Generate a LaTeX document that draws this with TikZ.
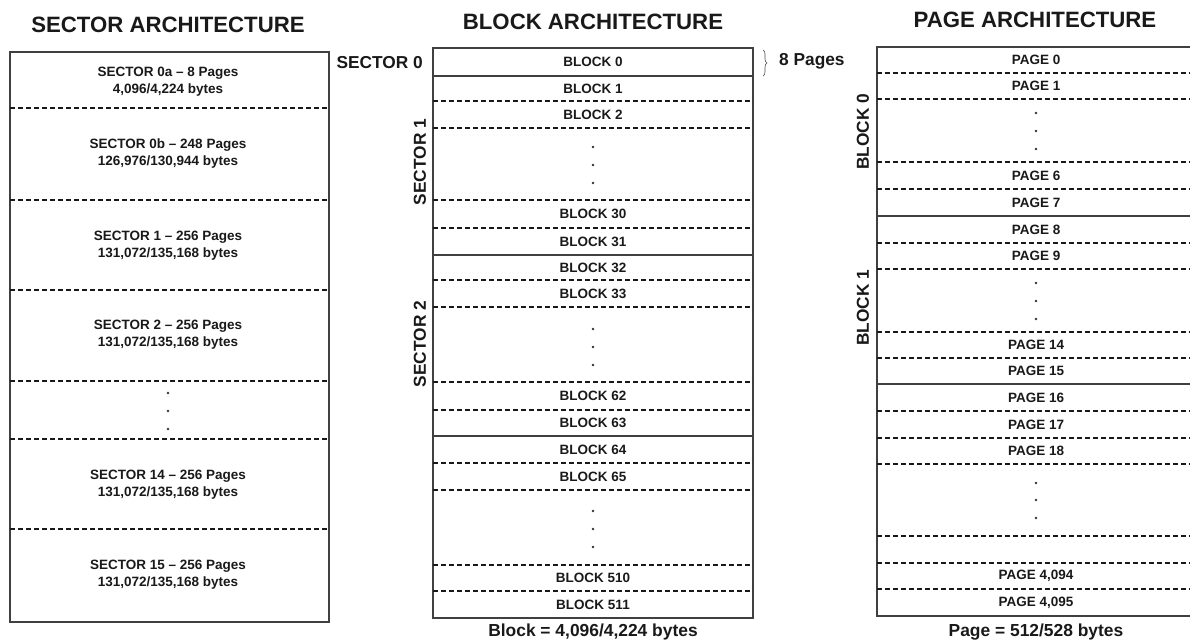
\documentclass[tikz,border=0pt]{standalone}
\usepackage{fontspec}
\setmainfont{Liberation Sans}
\usetikzlibrary{decorations.pathreplacing}
\begin{document}
\begin{tikzpicture}[x=1pt,y=-1pt,
  box/.style={line width=1.5pt, draw=black!75},
  sep/.style={line width=1.4pt, draw=black!75},
  dsh/.style={line width=1.2pt, draw=black!90, dash pattern=on 5pt off 3pt},
  lbl/.style={font=\fontsize{13.5}{17}\selectfont\bfseries, inner sep=0pt, align=center, text=black!90},
  ttl/.style={font=\fontsize{22.2}{24}\selectfont\bfseries, inner sep=0pt, text=black!90},
  side/.style={font=\fontsize{17.3}{19}\selectfont\bfseries, inner sep=0pt, text=black!90},
  capt/.style={font=\fontsize{17.4}{19}\selectfont\bfseries, inner sep=0pt, text=black!90},
  dotmark/.style={circle, fill=black!80, inner sep=0pt, minimum size=2.8pt}]
\useasboundingbox (0,0) rectangle (1190,642);

% titles
\node[ttl] (t1) at (168,25) {SECTOR ARCHITECTURE};
\node[ttl] (t2) at (593,22) {BLOCK ARCHITECTURE};
\node[ttl] (t3) at (1035,20) {PAGE ARCHITECTURE};

% ---------- sector architecture ----------
\draw[box] (10,52) rectangle (329,622);
\foreach \y in {108,200,290,381,439,529} \draw[dsh] (10,\y) -- (329,\y);
\node[lbl] (s0a) at (168,82) {SECTOR 0a -- 8 Pages\\4,096/4,224 bytes};
\node[lbl] (s0b) at (168,154) {SECTOR 0b -- 248 Pages\\126,976/130,944 bytes};
\node[lbl] (s1) at (168,245.5) {SECTOR 1 -- 256 Pages\\131,072/135,168 bytes};
\node[lbl] (s2) at (168,334.5) {SECTOR 2 -- 256 Pages\\131,072/135,168 bytes};
\node[lbl] (s14) at (168,484.5) {SECTOR 14 -- 256 Pages\\131,072/135,168 bytes};
\node[lbl] (s15) at (168,575) {SECTOR 15 -- 256 Pages\\131,072/135,168 bytes};
\foreach \y [count=\i] in {393,411,429} \node[dotmark] (sd\i) at (168,\y) {};

% ---------- block architecture ----------
\draw[box] (433,48) rectangle (753,618);
\foreach \y in {76,255,436} \draw[sep] (433,\y) -- (753,\y);
\foreach \y in {101,128,200,228,280,307,382,410,463,490,565,591} \draw[dsh] (433,\y) -- (753,\y);
\foreach \y/\t [count=\i] in {62/BLOCK 0, 88.5/BLOCK 1, 114.5/BLOCK 2, 214/BLOCK 30, 241.5/BLOCK 31,
   267.5/BLOCK 32, 293.5/BLOCK 33, 396/BLOCK 62, 423/BLOCK 63, 449.5/BLOCK 64, 476.5/BLOCK 65,
   578/BLOCK 510, 604.5/BLOCK 511}
  \node[lbl] (b\i) at (593,\y) {\t};
\foreach \y [count=\i] in {147,165,183,329,347,365,511,529,547} \node[dotmark] (bd\i) at (593,\y) {};
\node[side, anchor=east] (sec0) at (423,63) {SECTOR 0};
\node[side, rotate=90] (sec1) at (420,162) {SECTOR 1};
\node[side, rotate=90] (sec2) at (420,344) {SECTOR 2};
\coordinate (brt) at (763,50);
\coordinate (brb) at (763,76);
\draw[line width=0.6pt, black!70, decorate, decoration={brace, amplitude=4pt}] (brt) -- (brb);
\node[side, anchor=west] (p8) at (779,61) {8 Pages};
\node[capt] (bcap) at (593,632) {Block = 4,096/4,224 bytes};

% ---------- page architecture ----------
\draw[box] (1193,47) -- (877,47) -- (877,616) -- (1193,616);
\foreach \y in {216,384} \draw[sep] (877,\y) -- (1193,\y);
\foreach \y in {73,99,162,189,243,269,332,358,411,438,464,536,563,589} \draw[dsh] (877,\y) -- (1193,\y);
\foreach \y/\t [count=\i] in {60/PAGE 0, 86/PAGE 1, 175.5/PAGE 6, 202.5/PAGE 7, 229.5/PAGE 8, 256/PAGE 9,
   345/PAGE 14, 371/PAGE 15, 397.5/PAGE 16, 424.5/PAGE 17, 451/PAGE 18, 576/{PAGE 4,094}, 602.5/{PAGE 4,095}}
  \node[lbl] (p\i) at (1036,\y) {\t};
\foreach \y [count=\i] in {113,131,149,283,301,319,483,500,518} \node[dotmark] (pd\i) at (1036,\y) {};
\node[side, rotate=90] (blk0) at (863,132) {BLOCK 0};
\node[side, rotate=90] (blk1) at (863,308) {BLOCK 1};
\node[capt] (pcap) at (1036,632) {Page = 512/528 bytes};
\end{tikzpicture}
\end{document}
